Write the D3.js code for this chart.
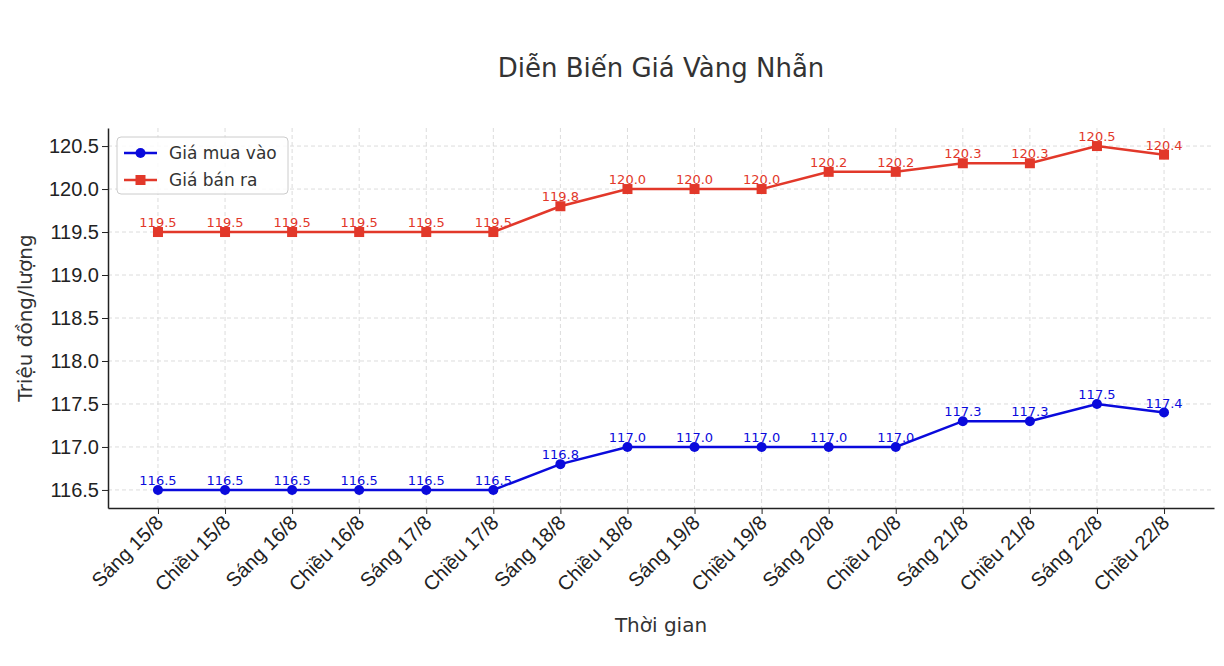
<!DOCTYPE html>
<html>
<head>
<meta charset="utf-8">
<script src="https://cdn.jsdelivr.net/npm/d3@7"></script>
<style>
  body { margin: 0; background: #fff; }
  svg { font-family: "DejaVu Sans", sans-serif; }
</style>
</head>
<body>
<div id="chart"></div>
<script>
// Chart data
const categories = ['Sáng 15/8', 'Chiều 15/8', 'Sáng 16/8', 'Chiều 16/8', 'Sáng 17/8', 'Chiều 17/8',
  'Sáng 18/8', 'Chiều 18/8', 'Sáng 19/8', 'Chiều 19/8', 'Sáng 20/8', 'Chiều 20/8',
  'Sáng 21/8', 'Chiều 21/8', 'Sáng 22/8', 'Chiều 22/8'];
const buyPrices = [116.5, 116.5, 116.5, 116.5, 116.5, 116.5, 116.8, 117.0, 117.0, 117.0, 117.0, 117.0, 117.3, 117.3, 117.5, 117.4];
const sellPrices = [119.5, 119.5, 119.5, 119.5, 119.5, 119.5, 119.8, 120.0, 120.0, 120.0, 120.2, 120.2, 120.3, 120.3, 120.5, 120.4];
const yTicks = [116.5, 117.0, 117.5, 118.0, 118.5, 119.0, 119.5, 120.0, 120.5];

const width = 1224, height = 666;
const plot = { left: 108, right: 1214, top: 128, bottom: 508 };
const blue = '#0a0adc', red = '#e2382a';

const svg = d3.select('#chart').append('svg')
  .attr('width', width).attr('height', height);

const x = d3.scaleLinear()
  .domain([-0.745, categories.length - 1 + 0.745])
  .range([plot.left, plot.right]);
const y = d3.scaleLinear()
  .domain([116.29, 120.71])
  .range([plot.bottom, plot.top]);

// grid
const grid = svg.append('g').attr('stroke', '#dcdcdc').attr('stroke-dasharray', '4,3');
categories.forEach((c, i) => {
  grid.append('line').attr('x1', x(i)).attr('x2', x(i)).attr('y1', plot.top).attr('y2', plot.bottom);
});
yTicks.forEach(t => {
  grid.append('line').attr('x1', plot.left).attr('x2', plot.right).attr('y1', y(t)).attr('y2', y(t));
});

// axes
const xAxis = svg.append('g').attr('transform', `translate(0,${plot.bottom})`)
  .call(d3.axisBottom(x).tickValues(d3.range(categories.length)).tickFormat(i => categories[i]).tickSize(6).tickSizeOuter(0));
xAxis.selectAll('text')
  .attr('font-size', 20).attr('fill', '#222')
  .attr('text-anchor', 'end')
  .attr('x', 0).attr('y', 0)
  .attr('dx', 0).attr('dy', 0)
  .attr('transform', 'translate(6,16) rotate(-45)');

const yAxis = svg.append('g').attr('transform', `translate(${plot.left},0)`)
  .call(d3.axisLeft(y).tickValues(yTicks).tickFormat(d3.format('.1f')).tickSize(6).tickSizeOuter(0));
yAxis.selectAll('text').attr('font-size', 20).attr('fill', '#222');
[xAxis, yAxis].forEach(a => a.select('.domain').attr('stroke', '#222').attr('stroke-width', 1.5));
[xAxis, yAxis].forEach(a => a.selectAll('.tick line').attr('stroke', '#222'));

// titles
svg.append('text').attr('x', 661).attr('y', 77).attr('text-anchor', 'middle')
  .attr('font-size', 26).attr('fill', '#333').text('Diễn Biến Giá Vàng Nhẫn');
svg.append('text').attr('x', 661).attr('y', 632).attr('text-anchor', 'middle')
  .attr('font-size', 20).attr('fill', '#333').text('Thời gian');
svg.append('text').attr('transform', 'translate(32,318) rotate(-90)').attr('text-anchor', 'middle')
  .attr('font-size', 20).attr('fill', '#333').text('Triệu đồng/lượng');

// series
const series = [
  { name: 'Giá mua vào', values: buyPrices, color: blue, shape: 'circle' },
  { name: 'Giá bán ra', values: sellPrices, color: red, shape: 'square' },
];
const line = d3.line().x((d, i) => x(i)).y(d => y(d));

series.forEach(s => {
  const g = svg.append('g');
  g.append('path').attr('d', line(s.values)).attr('fill', 'none')
    .attr('stroke', s.color).attr('stroke-width', 2.5);
  s.values.forEach((v, i) => {
    if (s.shape === 'circle') {
      g.append('circle').attr('cx', x(i)).attr('cy', y(v)).attr('r', 5).attr('fill', s.color);
    } else {
      g.append('rect').attr('x', x(i) - 5).attr('y', y(v) - 5).attr('width', 10).attr('height', 10).attr('fill', s.color);
    }
    g.append('text').attr('x', x(i)).attr('y', y(v) - 5).attr('text-anchor', 'middle')
      .attr('font-size', 13).attr('fill', s.color).text(v.toFixed(1));
  });
});

// legend
const legend = svg.append('g').attr('transform', 'translate(117,137)');
legend.append('rect').attr('width', 171).attr('height', 57).attr('rx', 4)
  .attr('fill', 'rgba(255,255,255,0.85)').attr('stroke', '#ccc');
series.forEach((s, i) => {
  const ly = 16 + i * 27;
  legend.append('line').attr('x1', 7).attr('x2', 40).attr('y1', ly).attr('y2', ly)
    .attr('stroke', s.color).attr('stroke-width', 2.5);
  if (s.shape === 'circle') legend.append('circle').attr('cx', 23.5).attr('cy', ly).attr('r', 5).attr('fill', s.color);
  else legend.append('rect').attr('x', 18.5).attr('y', ly - 5).attr('width', 10).attr('height', 10).attr('fill', s.color);
  legend.append('text').attr('x', 52).attr('y', ly + 6).attr('font-size', 17).attr('fill', '#333').text(s.name);
});
</script>
</body>
</html>
